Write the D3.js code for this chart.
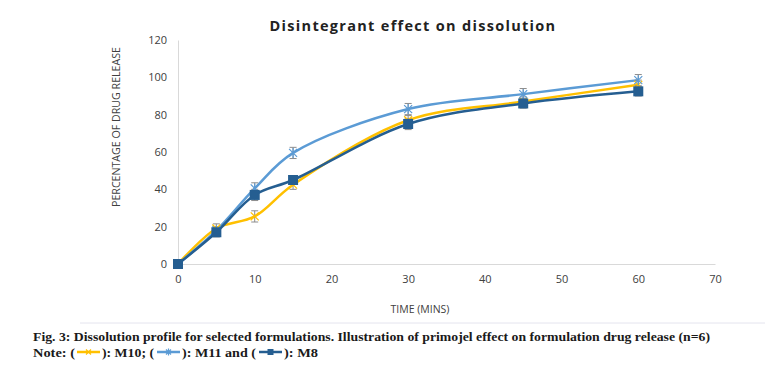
<!DOCTYPE html>
<html><head><meta charset="utf-8">
<script src="https://cdn.jsdelivr.net/npm/d3@7"></script>
<style>body{margin:0;background:#fff}svg{display:block}</style>
</head><body>
<script>
const time = [0, 5, 10, 15, 30, 45, 60];
const m10 = [0, 19, 25.5, 42.5, 77, 87, 96];
const m11 = [0, 18, 40.5, 59.5, 83, 91, 98.5];
const m8  = [0, 17, 37, 45, 75, 86, 92.5];
const m10Err = [1.5, 2.5, 3, 2.5, 2.5, 2.5, 2.5];
const m11Err = [1, 2, 3, 3, 3, 3, 3];
const m8Err  = [1.5, 2.5, 3, 2, 3, 2.5, 2.5];
const xTicks = [0, 10, 20, 30, 40, 50, 60, 70];
const yTicks = [0, 20, 40, 60, 80, 100, 120];
const seriesNames = ["M10", "M11", "M8"];

const W = 782, H = 368;
const svg = d3.select("body").append("svg").attr("width", W).attr("height", H);
const x = d3.scaleLinear().domain([0, 70]).range([178, 715]);
const y = d3.scaleLinear().domain([0, 120]).range([264, 40]);
const chartFont = "'Open Sans', 'Liberation Sans', sans-serif";

// title
svg.append("text").attr("x", 413).attr("y", 31).attr("text-anchor", "middle")
  .attr("font-family", chartFont).attr("font-weight", "bold").attr("font-size", 14.5)
  .attr("letter-spacing", 1.3).attr("fill", "#222").text("Disintegrant effect on dissolution");

// axes
const xAxis = svg.append("g").attr("transform", `translate(0,${y(0)})`)
  .call(d3.axisBottom(x).tickValues(xTicks).tickSize(0).tickPadding(11));
const yAxis = svg.append("g").attr("transform", `translate(${x(0)},0)`)
  .call(d3.axisLeft(y).tickValues(yTicks).tickSize(0).tickPadding(11));
[xAxis, yAxis].forEach(g => {
  g.select(".domain").attr("stroke", "#d9d9d9").attr("stroke-width", 1);
  g.selectAll("text").attr("font-family", chartFont).attr("font-size", 11).attr("fill", "#404040");
});

svg.append("text").attr("x", 420).attr("y", 313).attr("text-anchor", "middle")
  .attr("font-family", chartFont).attr("font-size", 10.5).attr("fill", "#404040").text("TIME (MINS)");
svg.append("text").attr("transform", "translate(120,127) rotate(-90)").attr("text-anchor", "middle")
  .attr("font-family", chartFont).attr("font-size", 10.5).attr("fill", "#404040")
  .attr("textLength", 160).attr("lengthAdjust", "spacingAndGlyphs").text("PERCENTAGE OF DRUG RELEASE");

const series = [
  {name: seriesNames[0], vals: m10, err: m10Err, color: "#FFC000", marker: "x", w: 2.5},
  {name: seriesNames[1], vals: m11, err: m11Err, color: "#5B9BD5", marker: "star", w: 2.5},
  {name: seriesNames[2], vals: m8, err: m8Err, color: "#255E91", marker: "square", w: 2.5}
];
const line = d3.line().curve(d3.curveCatmullRom.alpha(0.5)).x(d => x(d[0])).y(d => y(d[1]));

function drawMarker(g, type, cx, cy, color, s) {
  if (type === "square") {
    g.append("rect").attr("x", cx - s).attr("y", cy - s).attr("width", 2 * s).attr("height", 2 * s).attr("fill", color);
  } else {
    const p = d3.path();
    p.moveTo(cx - s, cy - s); p.lineTo(cx + s, cy + s);
    p.moveTo(cx - s, cy + s); p.lineTo(cx + s, cy - s);
    if (type === "star") { p.moveTo(cx, cy - s - 1); p.lineTo(cx, cy + s + 1); }
    g.append("path").attr("d", p.toString()).attr("stroke", color).attr("stroke-width", 1.2).attr("fill", "none");
  }
}

series.forEach(s => {
  const pts = time.map((t, i) => [t, s.vals[i]]);
  svg.append("path").attr("d", line(pts)).attr("fill", "none").attr("stroke", s.color)
    .attr("stroke-width", s.w).attr("stroke-linejoin", "round");
});
series.forEach(s => {
  const g = svg.append("g");
  time.forEach((t, i) => {
    const cx = x(t), y1 = y(s.vals[i] + s.err[i]), y2 = y(s.vals[i] - s.err[i]);
    g.append("line").attr("x1", cx).attr("x2", cx).attr("y1", y1).attr("y2", y2).attr("stroke", "#8c8c8c").attr("stroke-width", 1);
    [y1, y2].forEach(yy => g.append("line").attr("x1", cx - 3.5).attr("x2", cx + 3.5).attr("y1", yy).attr("y2", yy).attr("stroke", "#8c8c8c").attr("stroke-width", 1));
  });
});
series.forEach(s => {
  const g = svg.append("g");
  time.forEach((t, i) => drawMarker(g, s.marker, x(t), y(s.vals[i]), s.color, s.marker === "square" ? 5 : 4));
});

// caption
svg.append("line").attr("x1", 80).attr("x2", 765).attr("y1", 323).attr("y2", 323).attr("stroke", "#e4e4ee").attr("stroke-width", 1);
const capFont = "'Liberation Serif', 'Times New Roman', serif";
svg.append("text").attr("x", 33).attr("y", 341).attr("font-family", capFont).attr("font-weight", "bold")
  .attr("font-size", 13).attr("fill", "#1a1a1a").attr("textLength", 677).attr("lengthAdjust", "spacingAndGlyphs")
  .text("Fig. 3: Dissolution profile for selected formulations. Illustration of primojel effect on formulation drug release (n=6)");

const pieces = [
  {t: "Note: (", x0: 33, x1: 75},
  {sample: 0, x0: 77, x1: 100},
  {t: "): M10; (", x0: 102, x1: 154},
  {sample: 1, x0: 157, x1: 180},
  {t: "): M11 and (", x0: 182, x1: 256},
  {sample: 2, x0: 259, x1: 282},
  {t: "): M8", x0: 284, x1: 318}
];
pieces.forEach(p => {
  if (p.t) {
    svg.append("text").attr("x", p.x0).attr("y", 357).attr("font-family", capFont).attr("font-weight", "bold")
      .attr("font-size", 13).attr("fill", "#1a1a1a").attr("textLength", p.x1 - p.x0).attr("lengthAdjust", "spacingAndGlyphs").text(p.t);
  } else {
    const s = series[p.sample];
    const g = svg.append("g");
    g.append("line").attr("x1", p.x0).attr("x2", p.x1).attr("y1", 352).attr("y2", 352).attr("stroke", s.color).attr("stroke-width", 2.5);
    drawMarker(g, s.marker, (p.x0 + p.x1) / 2, 352, s.color, s.marker === "square" ? 3 : 2.5);
  }
});
</script>
</body></html>
